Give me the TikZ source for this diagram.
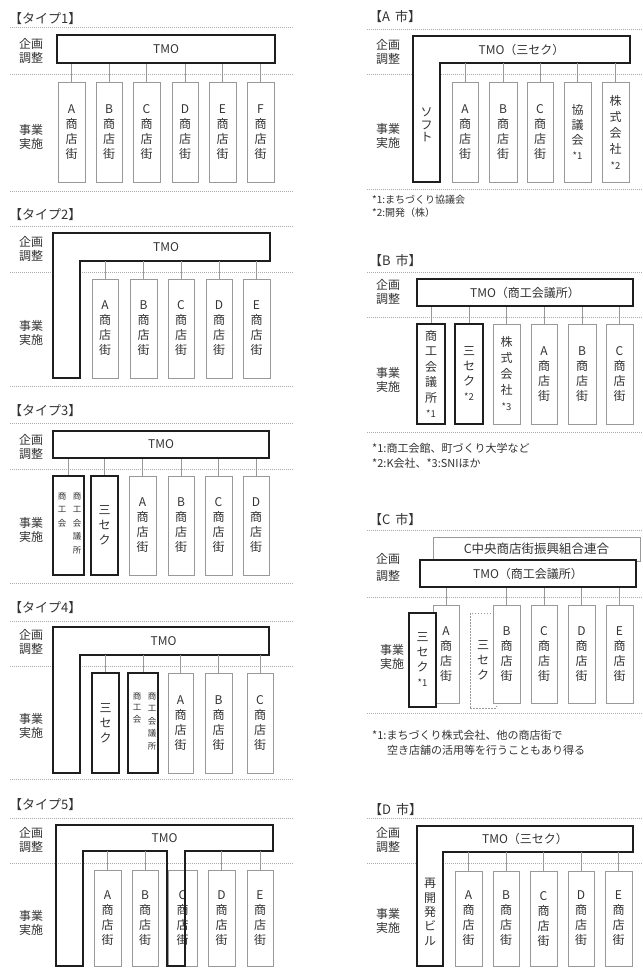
\documentclass[tikz,border=0pt]{standalone}
\usepackage{fontspec}
\setmainfont{Noto Sans CJK JP}
\definecolor{ink}{HTML}{333333}
\definecolor{thinc}{HTML}{999999}
\definecolor{sepc}{HTML}{ABABAB}
\definecolor{heavy}{HTML}{1E1E1E}
\newcommand\BX[7]{\node[#1, minimum width={(#5-#3)*1pt}, minimum height={(#6-#4)*1pt}] (#2) at ({(#3+#5)/2},{(#4+#6)/2}) {#7};}
\newcommand\mkst[1]{{\fontsize{9.5}{9.5}\selectfont *#1}}
\begin{document}
\begin{tikzpicture}[x=1pt,y=-1pt,
  every node/.style={text=ink},
  tmobox/.style={draw=heavy, line width=2.2pt, fill=white, inner sep=0pt, font=\fontsize{12}{14}\selectfont},
  tmobar/.style={inner sep=0pt, font=\fontsize{12}{14}\selectfont},
  shop/.style={draw=thinc, line width=0.8pt, fill=white, inner sep=0pt, align=center, font=\fontsize{12}{15}\selectfont},
  hshop/.style={shop, draw=heavy, line width=2.2pt},
  dshop/.style={shop, dash pattern=on 1.5pt off 1.5pt},
  vtext/.style={align=center, inner sep=0pt, font=\fontsize{12}{14}\selectfont},
  conn/.style={draw=thinc, line width=0.8pt},
  sepline/.style={draw=sepc, line width=0.7pt, dash pattern=on 1pt off 1pt},
  lshape/.style={draw=heavy, line width=2.2pt, fill=white, line join=miter},
  ttl/.style={anchor=west, font=\fontsize{13}{16}\selectfont, inner sep=0pt},
  lab/.style={align=center, font=\fontsize{12}{14.5}\selectfont, inner sep=0pt},
  note/.style={anchor=west, font=\fontsize{11}{13}\selectfont, inner sep=0pt},
  small/.style={align=center, anchor=north, font=\fontsize{8.5}{13.5}\selectfont, inner sep=0pt},
]
\useasboundingbox (0,0) rectangle (642,968);
\fill[white] (0,0) rectangle (642,968);
\clip (0,0) rectangle (642,968);

% separators
\foreach \y in {27,74,191,226,272,386,423,469,583,621,666,779,818,863}
  \draw[sepline] (10,\y) -- (293,\y);
\foreach \y in {29,74,189,272,317,432,530,597,713,818,863}
  \draw[sepline] (367,\y) -- (642,\y);

% ================= LEFT COLUMN =================
% ---- Type 1
\node[ttl] (t1) at (9,19) {【タイプ1】};
\node[lab] (l1a) at (31,51) {企画\\調整};
\node[lab] (l1b) at (31,137) {事業\\実施};
\BX{tmobox}{tmo1}{57}{35}{275}{63}{TMO}
\BX{shop}{s1a}{58}{82}{85}{182}{A\\商\\店\\街}
\BX{shop}{s1b}{96}{82}{122}{182}{B\\商\\店\\街}
\BX{shop}{s1c}{133}{82}{160}{182}{C\\商\\店\\街}
\BX{shop}{s1d}{172}{82}{198}{182}{D\\商\\店\\街}
\BX{shop}{s1e}{209}{82}{236}{182}{E\\商\\店\\街}
\BX{shop}{s1f}{247}{82}{274}{182}{F\\商\\店\\街}
\foreach \n in {a,b,c,d,e,f} \draw[conn] (s1\n.north) -- (s1\n.north |- tmo1.south);

% ---- Type 2
\node[ttl] (t2) at (9,215) {【タイプ2】};
\node[lab] (l2a) at (31,249) {企画\\調整};
\node[lab] (l2b) at (31,333) {事業\\実施};
\draw[lshape] (53,378) -- (53,233) -- (270,233) -- (270,261) -- (80,261) -- (80,378) -- cycle;
\BX{tmobar}{tmo2}{62}{233}{270}{261}{TMO}
\BX{shop}{s2a}{92}{279}{118}{378}{A\\商\\店\\街}
\BX{shop}{s2b}{130}{279}{157}{378}{B\\商\\店\\街}
\BX{shop}{s2c}{168}{279}{194}{378}{C\\商\\店\\街}
\BX{shop}{s2d}{206}{279}{232}{378}{D\\商\\店\\街}
\BX{shop}{s2e}{243}{279}{270}{378}{E\\商\\店\\街}
\foreach \n in {a,b,c,d,e} \draw[conn] (s2\n.north) -- (s2\n.north |- tmo2.south);

% ---- Type 3
\node[ttl] (t3) at (9,411) {【タイプ3】};
\node[lab] (l3a) at (31,447) {企画\\調整};
\node[lab] (l3b) at (31,530) {事業\\実施};
\BX{tmobox}{tmo3}{53}{431}{269}{458}{TMO}
\BX{hshop}{s3a}{53}{476}{84}{575}{}
\node[small] (s3a1) at (62,492) {商\\工\\会};
\node[small] (s3a2) at (77,492) {商\\工\\会\\議\\所};
\BX{hshop}{s3b}{91}{476}{118}{575}{三\\セ\\ク}
\BX{shop}{s3c}{129}{476}{156}{575}{A\\商\\店\\街}
\BX{shop}{s3d}{168}{476}{194}{575}{B\\商\\店\\街}
\BX{shop}{s3e}{205}{476}{232}{575}{C\\商\\店\\街}
\BX{shop}{s3f}{243}{476}{269}{575}{D\\商\\店\\街}
\foreach \n in {a,b,c,d,e,f} \draw[conn] (s3\n.north) -- (s3\n.north |- tmo3.south);

% ---- Type 4
\node[ttl] (t4) at (9,608) {【タイプ4】};
\node[lab] (l4a) at (31,642) {企画\\調整};
\node[lab] (l4b) at (31,726) {事業\\実施};
\draw[lshape] (53,773) -- (53,627) -- (269,627) -- (269,655) -- (80,655) -- (80,773) -- cycle;
\BX{tmobar}{tmo4}{58}{627}{269}{655}{TMO}
\BX{hshop}{s4a}{92}{673}{119}{773}{三\\セ\\ク}
\BX{hshop}{s4b}{128}{673}{158}{773}{}
\node[small, font=\fontsize{8.5}{11.5}\selectfont] (s4b1) at (137,692) {商\\工\\会};
\node[small, font=\fontsize{8.5}{12.5}\selectfont] (s4b2) at (152,692) {商\\工\\会\\議\\所};
\BX{shop}{s4c}{168}{673}{193}{773}{A\\商\\店\\街}
\BX{shop}{s4d}{205}{673}{232}{773}{B\\商\\店\\街}
\BX{shop}{s4e}{247}{673}{273}{773}{C\\商\\店\\街}
\foreach \n in {a,b,c,d,e} \draw[conn] (s4\n.north) -- (s4\n.north |- tmo4.south);

% ---- Type 5
\node[ttl] (t5) at (9,805) {【タイプ5】};
\node[lab] (l5a) at (31,840) {企画\\調整};
\node[lab] (l5b) at (31,923) {事業\\実施};
\BX{shop}{s5a}{94}{870}{121}{966}{A\\商\\店\\街}
\BX{shop}{s5b}{132}{870}{158}{966}{B\\商\\店\\街}
\BX{shop}{s5c}{168}{870}{197}{966}{C\\商\\店\\街}
\BX{shop}{s5d}{208}{870}{235}{966}{D\\商\\店\\街}
\BX{shop}{s5e}{247}{870}{273}{966}{E\\商\\店\\街}
\draw[lshape, fill=none] (56,966) -- (56,825) -- (273,825) -- (273,851) -- (185,851) -- (185,966) -- (167,966) -- (167,851) -- (83,851) -- (83,966) -- cycle;
\BX{tmobar}{tmo5}{56}{825}{273}{851}{TMO}
\foreach \n in {a,b,d,e} \draw[conn] (s5\n.north) -- (s5\n.north |- tmo5.south);

% ================= RIGHT COLUMN =================
% ---- A city
\node[ttl] (tA) at (369,17) {【A\hspace{5pt}市】};
\node[lab] (lAa) at (388,52) {企画\\調整};
\node[lab] (lAb) at (388,136) {事業\\実施};
\draw[lshape] (413,182) -- (413,36) -- (630,36) -- (630,63) -- (440,63) -- (440,182) -- cycle;
\BX{tmobar}{tmoA}{413}{36}{630}{63}{TMO（三セク）}
\node[vtext, font=\fontsize{12}{12.5}\selectfont] (softA) at (426.5,125) {ソ\\フ\\ト};
\BX{shop}{sAa}{452}{82}{478}{182}{A\\商\\店\\街}
\BX{shop}{sAb}{489}{82}{517}{182}{B\\商\\店\\街}
\BX{shop}{sAc}{527}{82}{553}{182}{C\\商\\店\\街}
\BX{shop}{sAd}{564}{82}{591}{182}{協\\議\\会\\\mkst{1}}
\BX{shop, font=\fontsize{12}{16}\selectfont}{sAe}{602}{82}{629}{182}{株\\式\\会\\社\\\mkst{2}}
\foreach \n in {a,b,c,d,e} \draw[conn] (sA\n.north) -- (sA\n.north |- tmoA.south);
\node[note, font=\fontsize{10}{12}\selectfont] (fA1) at (372,200) {*1:まちづくり協議会};
\node[note, font=\fontsize{10}{12}\selectfont] (fA2) at (372,213) {*2:開発（株）};

% ---- B city
\node[ttl] (tB) at (369,261) {【B\hspace{5pt}市】};
\node[lab] (lBa) at (388,292) {企画\\調整};
\node[lab] (lBb) at (388,380) {事業\\実施};
\BX{tmobox}{tmoB}{417}{279}{633}{306}{TMO（商工会議所）}
\BX{hshop, font=\fontsize{12}{15.5}\selectfont}{sBa}{417}{324}{445}{424}{商\\工\\会\\議\\所\\\mkst{1}}
\BX{hshop}{sBb}{455}{324}{483}{424}{三\\セ\\ク\\\mkst{2}}
\BX{shop, font=\fontsize{12}{16}\selectfont}{sBc}{493}{324}{520}{424}{株\\式\\会\\社\\\mkst{3}}
\BX{shop}{sBd}{531}{324}{557}{424}{A\\商\\店\\街}
\BX{shop}{sBe}{568}{324}{596}{424}{B\\商\\店\\街}
\BX{shop}{sBf}{606}{324}{633}{424}{C\\商\\店\\街}
\foreach \n in {a,b,c,d,e,f} \draw[conn] (sB\n.north) -- (sB\n.north |- tmoB.south);
\node[note] (fB1) at (372,448) {*1:商工会館、町づくり大学など};
\node[note] (fB2) at (372,463) {*2:K会社、*3:SNIほか};

% ---- C city
\node[ttl] (tC) at (369,520) {【C\hspace{5pt}市】};
\node[lab, font=\fontsize{12}{17}\selectfont] (lCa) at (388,567) {企画\\調整};
\node[lab] (lCb) at (392,657) {事業\\実施};
\BX{shop, font=\fontsize{12.5}{14}\selectfont}{sCz}{433}{537}{640}{561}{C中央商店街振興組合連合}
\BX{tmobox}{tmoC}{420}{560}{636}{587}{TMO（商工会議所）}
\BX{dshop}{sCs}{470}{613}{496}{708}{三\\セ\\ク}
\BX{shop}{sCa}{433}{605}{459}{703}{A\\商\\店\\街}
\BX{shop}{sCb}{493}{605}{520}{703}{B\\商\\店\\街}
\BX{shop}{sCc}{531}{605}{557}{703}{C\\商\\店\\街}
\BX{shop}{sCd}{568}{605}{595}{703}{D\\商\\店\\街}
\BX{shop}{sCe}{606}{605}{633}{703}{E\\商\\店\\街}
\BX{hshop}{sCt}{409}{613}{436}{707}{三\\セ\\ク\\\mkst{1}}
\foreach \n in {a,b,c,d,e} \draw[conn] (sC\n.north) -- (sC\n.north |- tmoC.south);
\node[note] (fC1) at (372,735) {*1:まちづくり株式会社、他の商店街で};
\node[note] (fC2) at (387,750) {空き店舗の活用等を行うこともあり得る};

% ---- D city
\node[ttl] (tD) at (369,810) {【D\hspace{5pt}市】};
\node[lab] (lDa) at (388,840) {企画\\調整};
\node[lab] (lDb) at (388,921) {事業\\実施};
\draw[lshape] (417,966) -- (417,826) -- (633,826) -- (633,852) -- (443,852) -- (443,966) -- cycle;
\BX{tmobar}{tmoD}{417}{826}{633}{852}{TMO（三セク）}
\node[vtext, font=\fontsize{12}{14.3}\selectfont] (saikai) at (430,912) {再\\開\\発\\ビ\\ル};
\BX{shop}{sDa}{455}{871}{482}{966}{A\\商\\店\\街}
\BX{shop}{sDb}{493}{871}{519}{966}{B\\商\\店\\街}
\BX{shop}{sDc}{530}{871}{557}{966}{C\\商\\店\\街}
\BX{shop}{sDd}{568}{871}{594}{966}{D\\商\\店\\街}
\BX{shop}{sDe}{605}{871}{632}{966}{E\\商\\店\\街}
\foreach \n in {a,b,c,d,e} \draw[conn] (sD\n.north) -- (sD\n.north |- tmoD.south);
\end{tikzpicture}
\end{document}
